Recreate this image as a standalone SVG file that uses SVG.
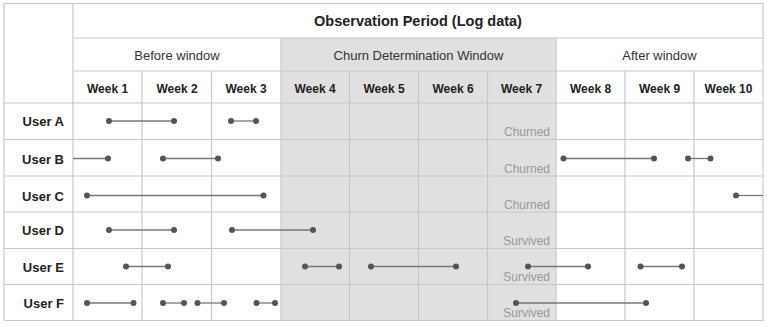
<svg xmlns="http://www.w3.org/2000/svg" width="767" height="327" viewBox="0 0 767 327">
<style>
.grid{stroke:#c8c8c8;stroke-width:1.2;fill:none}
.shade{fill:#e0e0e0}
.t{font-family:"Liberation Sans",Arial,sans-serif;fill:#222}
.title{font-size:14.5px;font-weight:bold;text-anchor:middle}
.sub{font-size:13px;text-anchor:middle;fill:#333}
.wk{font-size:12px;font-weight:bold;text-anchor:middle}
.usr{font-size:13px;font-weight:bold;text-anchor:end}
.st{font-size:12px;text-anchor:end;fill:#999}
.seg{stroke:#777;stroke-width:1.3}
.dot{fill:#555}
</style>
<rect width="767" height="327" fill="#fff"/>
<rect class="shade" x="281" y="38" width="275" height="282.5"/>
<g id="grid">
<path class="grid" d="M4 3.5H763V320.5H4Z M73 3.5V320.5 M73 38H763 M73 71H763 M4 103H763 M4 139.5H763 M4 176H763 M4 212H763 M4 248.5H763 M4 284.5H763 M281 38V320.5 M556 38V320.5 M142 71V320.5 M211.5 71V320.5 M349.5 71V320.5 M418.5 71V320.5 M487.5 71V320.5 M625 71V320.5 M694 71V320.5"/>
</g>
<g id="header">
<text class="t title" x="418" y="26">Observation Period (Log data)</text>
<text class="t sub" x="177" y="60">Before window</text>
<text class="t sub" x="418.5" y="60">Churn Determination Window</text>
<text class="t sub" x="659.5" y="60">After window</text>
<text class="t wk" x="107.5" y="92.5">Week 1</text>
<text class="t wk" x="177" y="92.5">Week 2</text>
<text class="t wk" x="246" y="92.5">Week 3</text>
<text class="t wk" x="315" y="92.5">Week 4</text>
<text class="t wk" x="384" y="92.5">Week 5</text>
<text class="t wk" x="453" y="92.5">Week 6</text>
<text class="t wk" x="521.5" y="92.5">Week 7</text>
<text class="t wk" x="590.5" y="92.5">Week 8</text>
<text class="t wk" x="659.5" y="92.5">Week 9</text>
<text class="t wk" x="728.5" y="92.5">Week 10</text>
</g>
<g id="connectors">
<line class="seg" x1="109" y1="121" x2="174" y2="121"/>
<line class="seg" x1="231" y1="121" x2="256" y2="121"/>
<line class="seg" x1="73" y1="158.5" x2="108" y2="158.5"/>
<line class="seg" x1="163" y1="158.5" x2="218" y2="158.5"/>
<line class="seg" x1="563.5" y1="158.5" x2="654" y2="158.5"/>
<line class="seg" x1="688" y1="158.5" x2="710.5" y2="158.5"/>
<line class="seg" x1="87" y1="195.5" x2="263.5" y2="195.5"/>
<line class="seg" x1="736" y1="195.5" x2="763" y2="195.5"/>
<line class="seg" x1="109" y1="230" x2="174" y2="230"/>
<line class="seg" x1="232" y1="230" x2="313" y2="230"/>
<line class="seg" x1="126" y1="266.5" x2="168" y2="266.5"/>
<line class="seg" x1="305" y1="266.5" x2="339" y2="266.5"/>
<line class="seg" x1="371" y1="266.5" x2="456" y2="266.5"/>
<line class="seg" x1="528" y1="266.5" x2="588" y2="266.5"/>
<line class="seg" x1="640.5" y1="266.5" x2="682" y2="266.5"/>
<line class="seg" x1="87" y1="303" x2="133.5" y2="303"/>
<line class="seg" x1="163" y1="303" x2="184" y2="303"/>
<line class="seg" x1="197.5" y1="303" x2="224" y2="303"/>
<line class="seg" x1="256.5" y1="303" x2="275" y2="303"/>
<line class="seg" x1="516" y1="303" x2="646" y2="303"/>
</g>
<g id="userA">
<text class="t usr" x="64" y="126">User A</text>
<circle class="dot" cx="109" cy="121" r="3"/><circle class="dot" cx="174" cy="121" r="3"/>
<circle class="dot" cx="231" cy="121" r="3"/><circle class="dot" cx="256" cy="121" r="3"/>
<text class="t st" x="550" y="136">Churned</text>
</g>
<g id="userB">
<text class="t usr" x="64" y="163.5">User B</text>
<circle class="dot" cx="108" cy="158.5" r="3"/>
<circle class="dot" cx="163" cy="158.5" r="3"/><circle class="dot" cx="218" cy="158.5" r="3"/>
<circle class="dot" cx="563.5" cy="158.5" r="3"/><circle class="dot" cx="654" cy="158.5" r="3"/>
<circle class="dot" cx="688" cy="158.5" r="3"/><circle class="dot" cx="710.5" cy="158.5" r="3"/>
<text class="t st" x="550" y="172.5">Churned</text>
</g>
<g id="userC">
<text class="t usr" x="64" y="200.5">User C</text>
<circle class="dot" cx="87" cy="195.5" r="3"/><circle class="dot" cx="263.5" cy="195.5" r="3"/>
<circle class="dot" cx="736" cy="195.5" r="3"/>
<text class="t st" x="550" y="208.5">Churned</text>
</g>
<g id="userD">
<text class="t usr" x="64" y="235">User D</text>
<circle class="dot" cx="109" cy="230" r="3"/><circle class="dot" cx="174" cy="230" r="3"/>
<circle class="dot" cx="232" cy="230" r="3"/><circle class="dot" cx="313" cy="230" r="3"/>
<text class="t st" x="550" y="245">Survived</text>
</g>
<g id="userE">
<text class="t usr" x="64" y="271.5">User E</text>
<circle class="dot" cx="126" cy="266.5" r="3"/><circle class="dot" cx="168" cy="266.5" r="3"/>
<circle class="dot" cx="305" cy="266.5" r="3"/><circle class="dot" cx="339" cy="266.5" r="3"/>
<circle class="dot" cx="371" cy="266.5" r="3"/><circle class="dot" cx="456" cy="266.5" r="3"/>
<circle class="dot" cx="528" cy="266.5" r="3"/><circle class="dot" cx="588" cy="266.5" r="3"/>
<circle class="dot" cx="640.5" cy="266.5" r="3"/><circle class="dot" cx="682" cy="266.5" r="3"/>
<text class="t st" x="550" y="281">Survived</text>
</g>
<g id="userF">
<text class="t usr" x="64" y="308">User F</text>
<circle class="dot" cx="87" cy="303" r="3"/><circle class="dot" cx="133.5" cy="303" r="3"/>
<circle class="dot" cx="163" cy="303" r="3"/><circle class="dot" cx="184" cy="303" r="3"/>
<circle class="dot" cx="197.5" cy="303" r="3"/><circle class="dot" cx="224" cy="303" r="3"/>
<circle class="dot" cx="256.5" cy="303" r="3"/><circle class="dot" cx="275" cy="303" r="3"/>
<circle class="dot" cx="516" cy="303" r="3"/><circle class="dot" cx="646" cy="303" r="3"/>
<text class="t st" x="550" y="317">Survived</text>
</g>
</svg>
